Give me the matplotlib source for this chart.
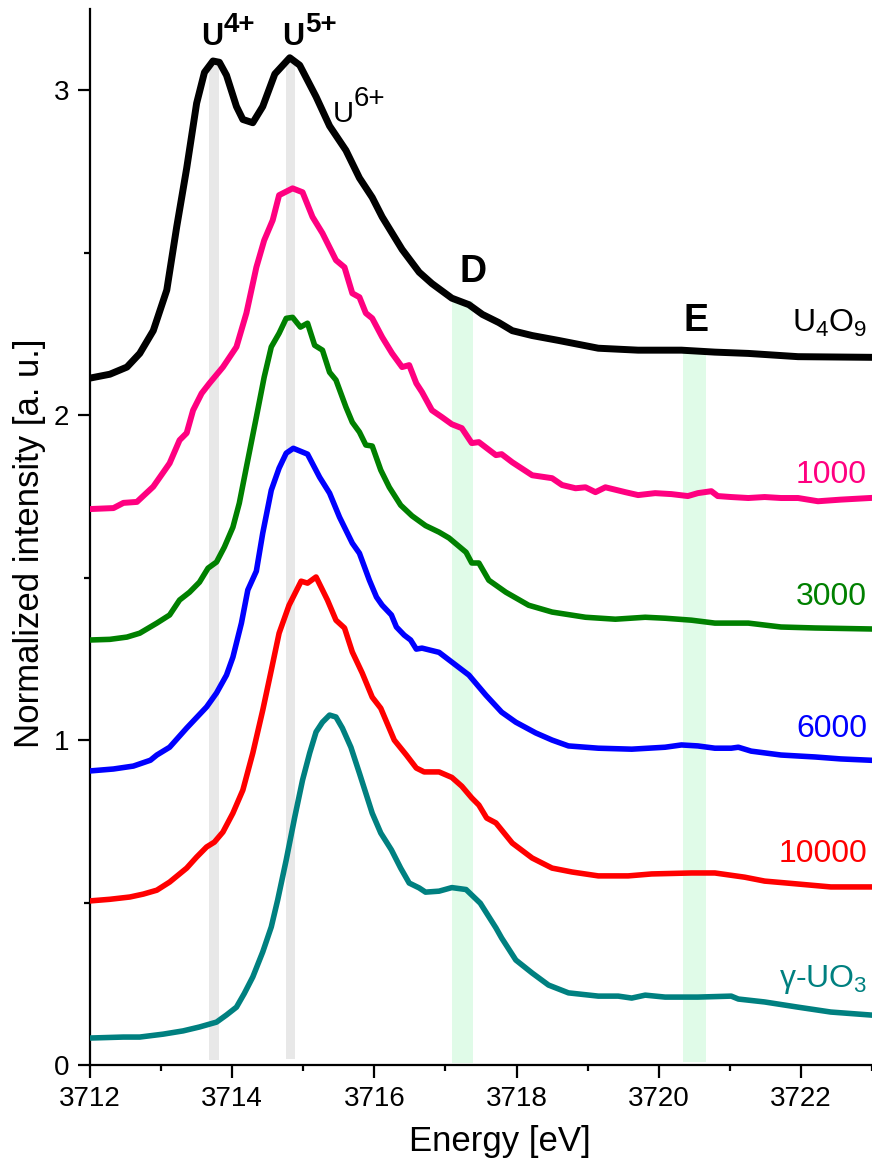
import matplotlib
matplotlib.use("Agg")
import matplotlib.pyplot as plt

plt.rcParams["font.family"] = ["Liberation Sans", "DejaVu Sans"]
plt.rcParams["mathtext.fontset"] = "custom"
plt.rcParams["mathtext.rm"] = "Liberation Sans"
plt.rcParams["mathtext.it"] = "Liberation Sans:italic"
plt.rcParams["mathtext.bf"] = "Liberation Sans:bold"

# U4O9 reference (black)
u4o9_x = [3712.0, 3712.28, 3712.52, 3712.70, 3712.89, 3713.08, 3713.22, 3713.36, 3713.50, 3713.61,
          3713.73, 3713.82, 3713.92, 3714.06, 3714.15, 3714.29, 3714.43, 3714.60, 3714.81, 3714.95,
          3715.18, 3715.37, 3715.60, 3715.79, 3715.97, 3716.11, 3716.39, 3716.63, 3716.81, 3717.09,
          3717.33, 3717.52, 3717.75, 3717.94, 3718.22, 3718.59, 3719.15, 3719.71, 3720.32, 3720.79,
          3721.26, 3721.96, 3722.97]
u4o9_y = [2.114, 2.126, 2.148, 2.19, 2.26, 2.385, 2.58, 2.76, 2.96, 3.055,
          3.09, 3.086, 3.046, 2.95, 2.91, 2.90, 2.95, 3.05, 3.10, 3.077,
          2.98, 2.89, 2.815, 2.73, 2.67, 2.61, 2.51, 2.44, 2.405, 2.36,
          2.34, 2.31, 2.285, 2.26, 2.245, 2.23, 2.206, 2.20, 2.20, 2.194,
          2.19, 2.18, 2.178]

# 1000 (pink)
s1000_x = [3712.0, 3712.33, 3712.47, 3712.66, 3712.89, 3713.12, 3713.26, 3713.36, 3713.45, 3713.57,
           3713.68, 3713.87, 3714.06, 3714.20, 3714.34, 3714.45, 3714.57, 3714.66, 3714.85, 3714.99,
           3715.13, 3715.27, 3715.46, 3715.58, 3715.69, 3715.79, 3715.88, 3715.97, 3716.11, 3716.25,
           3716.39, 3716.49, 3716.59, 3716.67, 3716.81, 3716.95, 3717.09, 3717.23, 3717.37, 3717.47,
           3717.71, 3717.79, 3717.94, 3718.22, 3718.50, 3718.64, 3718.83, 3718.97, 3719.11, 3719.25,
           3719.53, 3719.71, 3719.95, 3720.18, 3720.41, 3720.55, 3720.74, 3720.83, 3721.02, 3721.26,
           3721.49, 3721.72, 3721.96, 3722.24, 3722.56, 3722.97]
s1000_y = [1.711, 1.714, 1.73, 1.733, 1.78, 1.852, 1.923, 1.945, 2.015, 2.067,
           2.098, 2.148, 2.21, 2.314, 2.455, 2.538, 2.60, 2.677, 2.698, 2.686,
           2.61, 2.56, 2.477, 2.455, 2.375, 2.363, 2.314, 2.298, 2.24, 2.19,
           2.148, 2.154, 2.098, 2.071, 2.015, 1.994, 1.972, 1.96, 1.914, 1.917,
           1.877, 1.88, 1.855, 1.815, 1.806, 1.785, 1.775, 1.778, 1.763, 1.778,
           1.763, 1.754, 1.76, 1.757, 1.751, 1.76, 1.766, 1.751, 1.748, 1.745,
           1.748, 1.745, 1.745, 1.735, 1.74, 1.745]

# 3000 (green)
s3000_x = [3712.0, 3712.28, 3712.52, 3712.70, 3712.94, 3713.12, 3713.26, 3713.40, 3713.54, 3713.66,
           3713.78, 3713.89, 3714.01, 3714.10, 3714.20, 3714.34, 3714.45, 3714.55, 3714.66, 3714.76,
           3714.85, 3714.96, 3715.06, 3715.16, 3715.27, 3715.37, 3715.46, 3715.60, 3715.69, 3715.79,
           3715.88, 3715.97, 3716.09, 3716.21, 3716.37, 3716.53, 3716.72, 3716.91, 3717.05, 3717.29,
           3717.37, 3717.47, 3717.61, 3717.85, 3718.17, 3718.50, 3718.97, 3719.39, 3719.81, 3720.09,
           3720.46, 3720.79, 3721.26, 3721.72, 3722.20, 3722.97]
s3000_y = [1.308, 1.31, 1.317, 1.329, 1.36, 1.385, 1.431, 1.455, 1.486, 1.529,
           1.548, 1.594, 1.655, 1.729, 1.84, 1.994, 2.117, 2.21, 2.252, 2.298,
           2.301, 2.271, 2.283, 2.215, 2.20, 2.132, 2.108, 2.025, 1.978, 1.948,
           1.908, 1.905, 1.831, 1.778, 1.723, 1.69, 1.66, 1.64, 1.622, 1.578,
           1.545, 1.545, 1.492, 1.455, 1.415, 1.394, 1.378, 1.372, 1.378, 1.375,
           1.369, 1.36, 1.36, 1.348, 1.345, 1.342]

# 6000 (blue)
s6000_x = [3712.0, 3712.33, 3712.61, 3712.85, 3712.94, 3713.12, 3713.36, 3713.64, 3713.78, 3713.92,
           3714.01, 3714.13, 3714.22, 3714.34, 3714.43, 3714.55, 3714.66, 3714.76, 3714.86, 3715.06,
           3715.23, 3715.37, 3715.51, 3715.69, 3715.79, 3715.93, 3716.03, 3716.11, 3716.24, 3716.31,
           3716.42, 3716.51, 3716.59, 3716.67, 3716.91, 3717.09, 3717.33, 3717.57, 3717.79, 3717.99,
           3718.27, 3718.50, 3718.73, 3719.15, 3719.62, 3720.09, 3720.32, 3720.55, 3720.79, 3721.02,
           3721.12, 3721.30, 3721.72, 3722.20, 3722.56, 3722.97]
s6000_y = [0.905, 0.911, 0.92, 0.938, 0.954, 0.978, 1.037, 1.102, 1.145, 1.20,
           1.255, 1.36, 1.462, 1.52, 1.637, 1.769, 1.837, 1.883, 1.898, 1.88,
           1.809, 1.76, 1.686, 1.606, 1.575, 1.492, 1.44, 1.415, 1.385, 1.348,
           1.323, 1.308, 1.28, 1.283, 1.27, 1.24, 1.2, 1.138, 1.086, 1.055,
           1.022, 1.00, 0.982, 0.975, 0.972, 0.978, 0.985, 0.982, 0.975, 0.975,
           0.978, 0.966, 0.954, 0.948, 0.942, 0.938]

# 10000 (red)
s10000_x = [3712.0, 3712.28, 3712.56, 3712.75, 3712.94, 3713.12, 3713.36, 3713.50, 3713.64, 3713.75,
            3713.87, 3714.01, 3714.15, 3714.29, 3714.43, 3714.55, 3714.66, 3714.80, 3714.97, 3715.06,
            3715.18, 3715.34, 3715.46, 3715.58, 3715.69, 3715.83, 3715.97, 3716.09, 3716.28, 3716.45,
            3716.59, 3716.70, 3716.91, 3717.09, 3717.23, 3717.37, 3717.47, 3717.58, 3717.71, 3717.94,
            3718.22, 3718.50, 3718.78, 3719.15, 3719.57, 3719.90, 3720.46, 3720.79, 3721.21, 3721.49,
            3721.96, 3722.42, 3722.97]
s10000_y = [0.505, 0.51, 0.517, 0.526, 0.538, 0.563, 0.606, 0.64, 0.671, 0.686,
            0.717, 0.775, 0.846, 0.96, 1.092, 1.215, 1.329, 1.415, 1.489, 1.483,
            1.502, 1.431, 1.369, 1.345, 1.271, 1.206, 1.132, 1.098, 1.00, 0.954,
            0.914, 0.902, 0.902, 0.885, 0.858, 0.822, 0.80, 0.76, 0.745, 0.683,
            0.637, 0.606, 0.594, 0.582, 0.582, 0.588, 0.591, 0.591, 0.578, 0.566,
            0.557, 0.548, 0.548]

# gamma-UO3 reference (teal)
guo3_x = [3712.0, 3712.47, 3712.70, 3713.03, 3713.31, 3713.54, 3713.78, 3713.92, 3714.06, 3714.17,
          3714.29, 3714.43, 3714.55, 3714.64, 3714.76, 3714.88, 3714.99, 3715.09, 3715.18, 3715.27,
          3715.37, 3715.46, 3715.55, 3715.67, 3715.79, 3715.97, 3716.09, 3716.24, 3716.37, 3716.49,
          3716.63, 3716.72, 3716.91, 3717.09, 3717.29, 3717.49, 3717.71, 3717.79, 3717.99, 3718.22,
          3718.45, 3718.73, 3719.15, 3719.43, 3719.62, 3719.81, 3720.09, 3720.55, 3721.02, 3721.12,
          3721.49, 3721.96, 3722.42, 3722.97]
guo3_y = [0.083, 0.086, 0.086, 0.095, 0.105, 0.117, 0.132, 0.154, 0.178, 0.22,
          0.271, 0.348, 0.425, 0.508, 0.631, 0.763, 0.877, 0.96, 1.025, 1.055,
          1.077, 1.071, 1.037, 0.978, 0.898, 0.775, 0.714, 0.662, 0.606, 0.56,
          0.545, 0.532, 0.535, 0.546, 0.54, 0.498, 0.422, 0.391, 0.323, 0.283,
          0.246, 0.222, 0.212, 0.212, 0.206, 0.215, 0.209, 0.209, 0.212, 0.203,
          0.194, 0.178, 0.163, 0.154]

series = [
    (u4o9_x, u4o9_y, "black", 5.0, r"U$_4$O$_9$", 2.255),
    (s1000_x, s1000_y, "#ff0080", 4.3, "1000", 1.79),
    (s3000_x, s3000_y, "#008000", 4.0, "3000", 1.415),
    (s6000_x, s6000_y, "#0000ff", 4.0, "6000", 1.01),
    (s10000_x, s10000_y, "#ff0000", 4.0, "10000", 0.625),
    (guo3_x, guo3_y, "#008080", 4.0, r"γ-UO$_3$", 0.24),
]

# shaded marker bands
band_x0 = [3713.68, 3714.75, 3717.09, 3720.34]
band_x1 = [3713.81, 3714.89, 3717.39, 3720.66]
band_top = [3.08, 3.09, 2.35, 2.19]
band_bottom = [0.015, 0.02, 0.005, 0.008]
band_colors = ["#e8e8e8", "#e8e8e8", "#e0fbe8", "#e0fbe8"]

fig = plt.figure(figsize=(8.72, 11.62), dpi=100)
ax = fig.add_axes([90 / 872, 97 / 1162, 1 - 90 / 872, 1056 / 1162])

for x0, x1, yb, yt, c in zip(band_x0, band_x1, band_bottom, band_top, band_colors):
    ax.fill_betweenx([yb, yt], x0, x1, color=c, lw=0, zorder=1)

for x, y, c, lw, label, ly in series:
    ax.plot(x, y, color=c, lw=lw, zorder=3, solid_joinstyle="round")
    ax.text(3722.93, ly, label, color=c, fontsize=23, ha="right", va="baseline")

# oxidation state labels: base letter + large superscript
ax.text(3713.57, 3.138, "U", fontsize=22, fontweight="bold", va="baseline")
ax.text(3713.88, 3.180, "4+", fontsize=20, fontweight="bold", va="baseline")
ax.text(3714.70, 3.138, "U", fontsize=22, fontweight="bold", va="baseline")
ax.text(3715.02, 3.180, "5+", fontsize=20, fontweight="bold", va="baseline")
ax.text(3715.41, 2.902, "U", fontsize=21, va="baseline")
ax.text(3715.71, 2.951, "6+", fontsize=20, va="baseline")
ax.text(3717.39, 2.44, "D", fontsize=27, fontweight="bold", ha="center", va="center")
ax.text(3720.53, 2.29, "E", fontsize=27, fontweight="bold", ha="center", va="center")

ax.set_xlim(3712, 3723)
ax.set_ylim(0, 3.25)
ax.set_xticks([3712, 3714, 3716, 3718, 3720, 3722])
ax.set_xticks([3713, 3715, 3717, 3719, 3721, 3723], minor=True)
ax.set_yticks([0, 1, 2, 3])
ax.set_yticks([0.5, 1.5, 2.5], minor=True)
ax.tick_params(which="major", length=9, width=1.6, labelsize=20, pad=6, direction="out")
ax.tick_params(which="minor", length=4.5, width=1.6, direction="out")
ax.spines["top"].set_visible(False)
ax.spines["right"].set_visible(False)
ax.spines["left"].set_linewidth(1.6)
ax.spines["bottom"].set_linewidth(1.6)

ax.set_xlabel("Energy [eV]", fontsize=25)
ax.xaxis.label.set_va("center")
ax.xaxis.set_label_coords(0.524, -0.0729)
ax.set_ylabel("Normalized intensity [a. u.]", fontsize=25)
ax.yaxis.label.set_va("center")
ax.yaxis.set_label_coords(-0.078, 0.494)

fig.savefig("out.png", dpi=100)
